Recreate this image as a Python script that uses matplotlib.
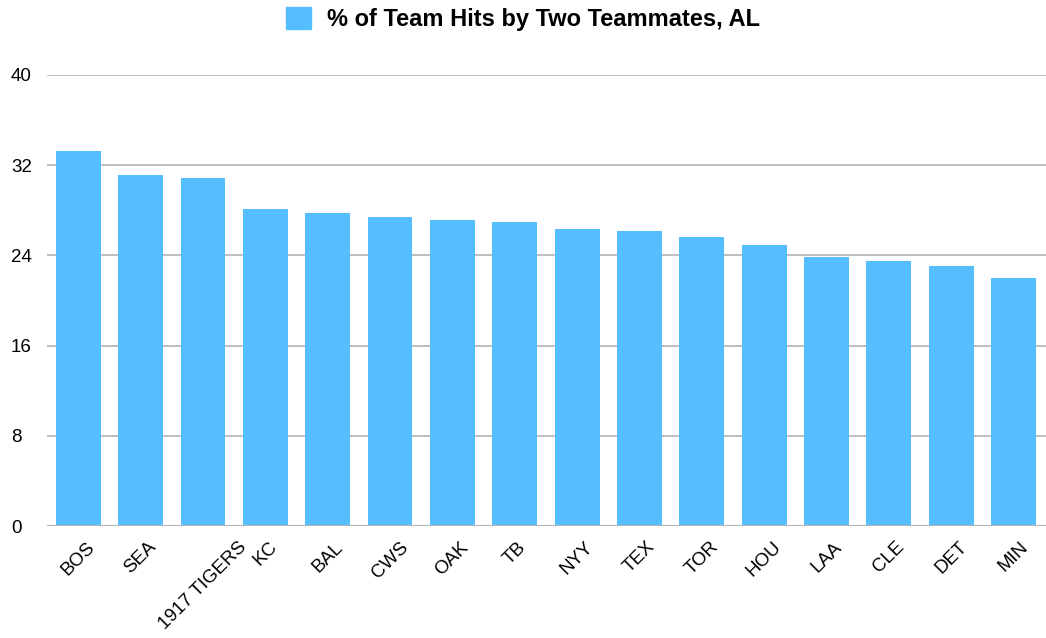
import numpy as np
import matplotlib.pyplot as plt
from matplotlib.patches import Patch

plt.rcParams['font.family'] = ['Liberation Sans', 'DejaVu Sans']

teams = ['BOS', 'SEA', '1917 TIGERS', 'KC', 'BAL', 'CWS', 'OAK', 'TB',
         'NYY', 'TEX', 'TOR', 'HOU', 'LAA', 'CLE', 'DET', 'MIN']
pct = [33.3, 31.1, 30.9, 28.1, 27.8, 27.4, 27.1, 27.0,
       26.3, 26.2, 25.6, 24.9, 23.9, 23.5, 23.1, 22.0]
series_name = '% of Team Hits by Two Teammates, AL'
bar_color = '#55BEFE'

fig = plt.figure(figsize=(10.46, 6.38), dpi=100)
ax = fig.add_axes([0.045, 0.1755, 0.955, 0.707])

ind = np.arange(len(teams))
ax.bar(ind, pct, 0.72, color=bar_color, zorder=3)

ax.set_xlim(-0.5, len(teams) - 0.48)
ax.set_ylim(0, 40)
ax.set_yticks(np.arange(0, 41, 8))
ax.yaxis.grid(True, color='#b4b4b4', linewidth=1.2, zorder=0)
ax.set_axisbelow(True)
for s in ax.spines.values():
    s.set_visible(False)
ax.axhline(0, color='#b4b4b4', linewidth=1.5, zorder=4)

ax.set_xticks(ind)
ax.set_xticklabels(teams, rotation=45, ha='center', va='top', fontsize=13.5)
ax.tick_params(axis='x', length=0, pad=9)
ax.tick_params(axis='y', length=0, pad=26, labelsize=13.5)
for lab in ax.get_yticklabels():
    lab.set_horizontalalignment('left')

fig.legend(handles=[Patch(color=bar_color, label=series_name)],
           loc='upper center', bbox_to_anchor=(0.5, 1.022), frameon=False,
           handlelength=1.05, handleheight=1.05, handletextpad=0.65,
           prop={'weight': 'bold', 'size': 17})

plt.savefig('out.png', dpi=100)
